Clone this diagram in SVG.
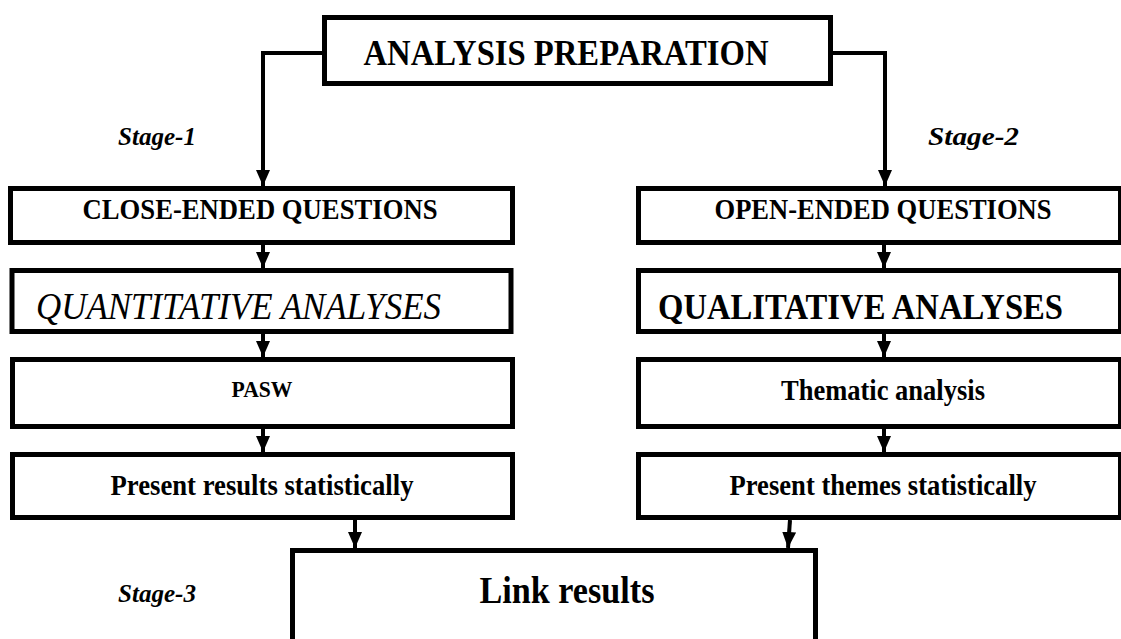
<svg xmlns="http://www.w3.org/2000/svg" width="1121" height="639" viewBox="0 0 1121 639">
  <style>
    .box { fill: #ffffff; stroke: #000000; stroke-width: 5; }
    .wire { fill: none; stroke: #000000; stroke-width: 4; }
    .t { font-family: "Liberation Serif", "Times New Roman", serif; fill: #000000; }
    .b { font-weight: bold; }
    .i { font-style: italic; }
    .mid { text-anchor: middle; }
    .stage { font-size: 26px; font-weight: bold; font-style: italic; }
  </style>
  <defs>
    <marker id="arrow" markerUnits="userSpaceOnUse" markerWidth="16" markerHeight="16" viewBox="0 0 16 16" refX="16" refY="8" orient="auto">
      <path d="M0,1 L16,8 L0,15 Z" fill="#000000"/>
    </marker>
  </defs>

  <!-- stage labels -->
  <text class="t stage" x="118" y="145" textLength="78" lengthAdjust="spacingAndGlyphs">Stage-1</text>
  <text class="t stage" x="928" y="145" textLength="91" lengthAdjust="spacingAndGlyphs">Stage-2</text>
  <text class="t stage" x="118" y="602" textLength="78" lengthAdjust="spacingAndGlyphs">Stage-3</text>

  <!-- connectors -->
  <g id="connectors">
    <path class="wire" d="M322,53 H263 V186" marker-end="url(#arrow)"/>
    <path class="wire" d="M833,53 H885 V186" marker-end="url(#arrow)"/>
    <path class="wire" d="M263,245 V268" marker-end="url(#arrow)"/>
    <path class="wire" d="M263,334 V357" marker-end="url(#arrow)"/>
    <path class="wire" d="M263,429 V452" marker-end="url(#arrow)"/>
    <path class="wire" d="M884,245 V268" marker-end="url(#arrow)"/>
    <path class="wire" d="M884,334 V357" marker-end="url(#arrow)"/>
    <path class="wire" d="M884,429 V452" marker-end="url(#arrow)"/>
    <path class="wire" d="M355,520 V548" marker-end="url(#arrow)"/>
    <path class="wire" d="M790,520 L788,548" marker-end="url(#arrow)"/>
  </g>

  <!-- top node -->
  <g id="analysis-preparation">
    <rect class="box" x="324.5" y="17.5" width="506" height="66"/>
    <text class="t b mid" x="566" y="65" font-size="36" textLength="405" lengthAdjust="spacingAndGlyphs">ANALYSIS PREPARATION</text>
  </g>

  <!-- quantitative branch -->
  <g id="close-ended">
    <rect class="box" x="10.5" y="188.5" width="502" height="54"/>
    <text class="t b mid" x="260" y="219" font-size="30" textLength="355" lengthAdjust="spacingAndGlyphs">CLOSE-ENDED QUESTIONS</text>
  </g>
  <g id="quantitative">
    <rect class="box" x="12" y="270.5" width="499" height="61"/>
    <text class="t i" x="36" y="319" font-size="38" textLength="405" lengthAdjust="spacingAndGlyphs">QUANTITATIVE ANALYSES</text>
  </g>
  <g id="pasw">
    <rect class="box" x="12.5" y="359.5" width="500" height="67"/>
    <text class="t b mid" x="262" y="397" font-size="23.5" textLength="61" lengthAdjust="spacingAndGlyphs">PASW</text>
  </g>
  <g id="present-results">
    <rect class="box" x="12.5" y="454.5" width="500" height="63"/>
    <text class="t b mid" x="262" y="495" font-size="30" textLength="303" lengthAdjust="spacingAndGlyphs">Present results statistically</text>
  </g>

  <!-- qualitative branch -->
  <g id="open-ended">
    <rect class="box" x="638.5" y="188.5" width="482" height="54"/>
    <text class="t b mid" x="883" y="219" font-size="30" textLength="337" lengthAdjust="spacingAndGlyphs">OPEN-ENDED QUESTIONS</text>
  </g>
  <g id="qualitative">
    <rect class="box" x="638.5" y="270.5" width="482" height="61"/>
    <text class="t b" x="658" y="319" font-size="36" textLength="405" lengthAdjust="spacingAndGlyphs">QUALITATIVE ANALYSES</text>
  </g>
  <g id="thematic">
    <rect class="box" x="638.5" y="359.5" width="482" height="67"/>
    <text class="t b mid" x="883" y="400" font-size="30" textLength="204" lengthAdjust="spacingAndGlyphs">Thematic analysis</text>
  </g>
  <g id="present-themes">
    <rect class="box" x="638.5" y="454.5" width="482" height="63"/>
    <text class="t b mid" x="883" y="495" font-size="30" textLength="307" lengthAdjust="spacingAndGlyphs">Present themes statistically</text>
  </g>

  <!-- merge node -->
  <g id="link-results">
    <rect class="box" x="292.5" y="550.5" width="523" height="100"/>
    <text class="t b mid" x="567" y="603" font-size="38" textLength="175" lengthAdjust="spacingAndGlyphs">Link results</text>
  </g>
</svg>
